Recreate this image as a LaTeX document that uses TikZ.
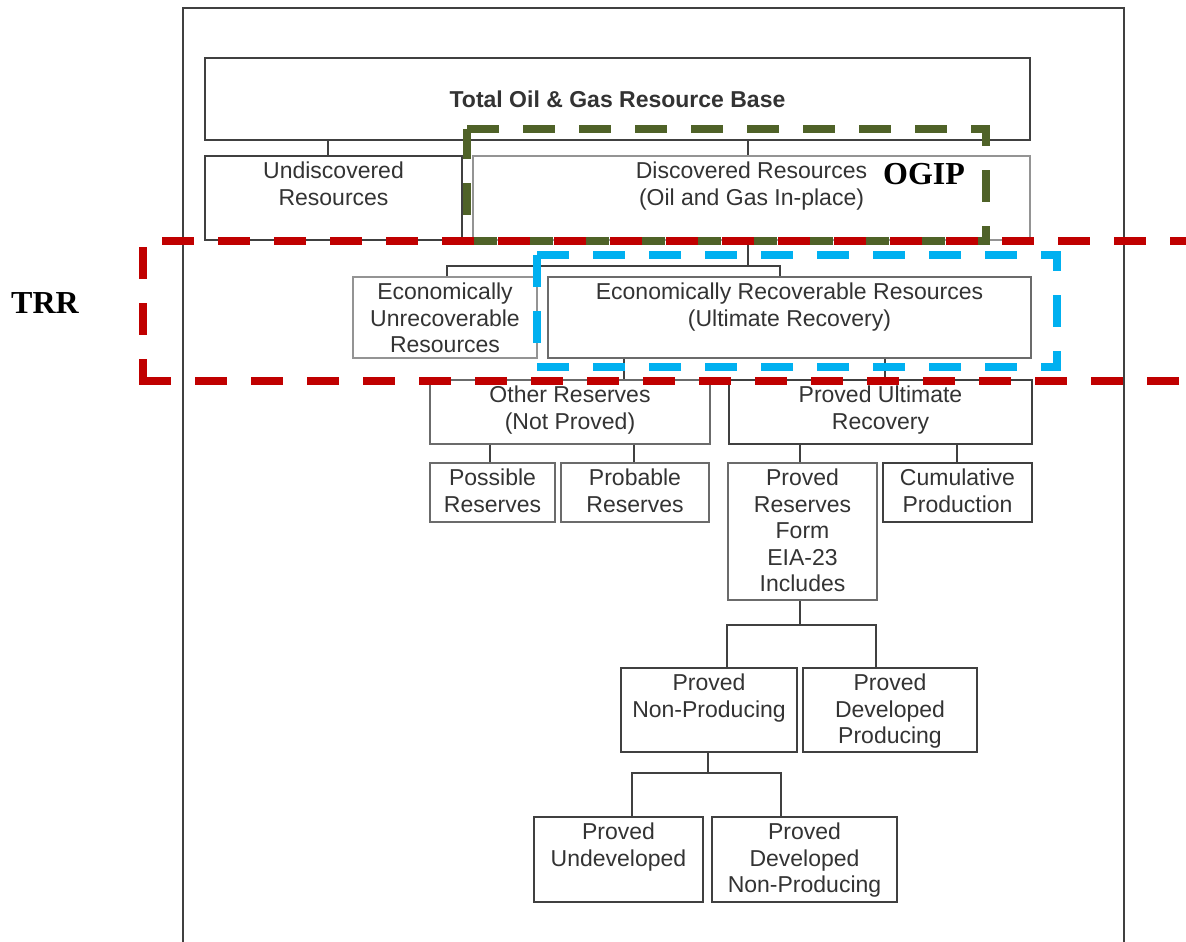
\documentclass[tikz,border=0pt]{standalone}
\usepackage{fontspec}
\setmainfont{Liberation Sans}
\newfontfamily\serifbold{Liberation Serif}
\usetikzlibrary{fit,calc}
\definecolor{ogipgreen}{HTML}{4F6228}
\definecolor{trrred}{HTML}{C00000}
\definecolor{urrblue}{HTML}{00B0F0}
\tikzset{
  box/.style={draw=black!58, line width=1.4pt, inner sep=0pt},
  dbox/.style={box, draw=black!75},
  lbox/.style={box, draw=black!42},
  txt/.style={anchor=north, inner sep=0pt, align=center, text=black!80,
    font=\fontsize{23}{26.5}\selectfont, yshift=-6.4pt},
  conn/.style={draw=black!75, line width=1.3pt},
  hl/.style={line width=7.5pt, dash pattern=on 32pt off 24pt, line join=miter},
  lab/.style={font=\serifbold\bfseries\fontsize{32}{36}\selectfont, inner sep=0pt}
}
\newcommand\mybox[7]{%
  \node[#1, fit={(#3,#4) (#5,#6)}] (#2) {};
  \node[txt] (#2-t) at (#2.north) {#7};}
\begin{document}
\begin{tikzpicture}[x=1pt,y=-1pt]
\useasboundingbox (0,0) rectangle (1186,942);
\clip (0,0) rectangle (1186,942);
\fill[white] (0,0) rectangle (1186,942);
% outer frame
\coordinate (fbl) at (183,942);
\coordinate (ftl) at (183,8);
\coordinate (ftr) at (1124,8);
\coordinate (fbr) at (1124,942);
\draw[black!75, line width=1.3pt] (fbl) -- (ftl) -- (ftr) -- (fbr);
% boxes
\node[dbox, fit={(205,58) (1030,140)}] (total) {};
\node[txt, anchor=center, yshift=6pt, font=\bfseries\fontsize{23}{26.5}\selectfont] (total-t) at (total.center) {Total Oil \& Gas Resource Base};
\mybox{dbox}{undisc}{205}{156}{462}{240}{Undiscovered\\Resources}
\mybox{lbox}{disc}{473}{156}{1030}{240}{Discovered Resources\\(Oil and Gas In-place)}
\mybox{lbox}{econU}{353}{277}{537}{358}{Economically\\Unrecoverable\\Resources}
\mybox{box}{econR}{548}{277}{1031}{358}{Economically Recoverable Resources\\(Ultimate Recovery)}
\mybox{box}{otherR}{430}{380}{710}{444}{Other Reserves\\(Not Proved)}
\mybox{dbox}{provedU}{729}{380}{1032}{444}{Proved Ultimate\\Recovery}
\mybox{box}{possible}{430}{463}{555}{522}{Possible\\Reserves}
\mybox{box}{probable}{561}{463}{709}{522}{Probable\\Reserves}
\mybox{box}{provedR}{728}{463}{877}{600}{Proved\\Reserves\\Form\\EIA-23\\Includes}
\mybox{dbox}{cumul}{883}{463}{1032}{522}{Cumulative\\Production}
\mybox{dbox}{pnp}{621}{668}{797}{752}{Proved\\Non-Producing}
\mybox{dbox}{pdp}{803}{668}{977}{752}{Proved\\Developed\\Producing}
\mybox{dbox}{pud}{534}{817}{703}{902}{Proved\\Undeveloped}
\mybox{dbox}{pdnp}{712}{817}{897}{902}{Proved\\Developed\\Non-Producing}
% connectors
\coordinate (j1) at (328,0);
\coordinate (j2) at (748,0);
\draw[conn] (j1 |- total.south) -- (j1 |- undisc.north);
\draw[conn] (j2 |- total.south) -- (j2 |- disc.north);
\coordinate (h1) at (748,266);
\coordinate (h1L) at (447,266);
\coordinate (h1R) at (780,266);
\draw[conn] (h1 |- disc.south) -- (h1);
\draw[conn] (h1L |- econU.north) -- (h1L) -- (h1R) -- (h1R |- econR.north);
\coordinate (a1) at (624,0);
\coordinate (a2) at (885,0);
\draw[conn] (a1 |- econR.south) -- (a1 |- otherR.north);
\draw[conn] (a2 |- econR.south) -- (a2 |- provedU.north);
\draw[conn] (otherR.north east) -- (provedU.north west);
\coordinate (b1) at (490,0);
\coordinate (b2) at (634,0);
\draw[conn] (b1 |- otherR.south) -- (b1 |- possible.north);
\draw[conn] (b2 |- otherR.south) -- (b2 |- probable.north);
\coordinate (c1) at (800,0);
\coordinate (c2) at (957,0);
\draw[conn] (c1 |- provedU.south) -- (c1 |- provedR.north);
\draw[conn] (c2 |- provedU.south) -- (c2 |- cumul.north);
\coordinate (h2) at (800,625);
\coordinate (h2L) at (727,625);
\coordinate (h2R) at (876,625);
\draw[conn] (h2 |- provedR.south) -- (h2);
\draw[conn] (h2L |- pnp.north) -- (h2L) -- (h2R) -- (h2R |- pdp.north);
\coordinate (h3) at (708,773);
\coordinate (h3L) at (632,773);
\coordinate (h3R) at (781,773);
\draw[conn] (h3 |- pnp.south) -- (h3);
\draw[conn] (h3L |- pud.north) -- (h3L) -- (h3R) -- (h3R |- pdnp.north);
% highlight frames
\coordinate (g1) at (467,129);
\coordinate (g2) at (986,129);
\coordinate (g3) at (986,241);
\coordinate (g4) at (467,241);
\draw[hl, ogipgreen] (g1) -- (g2) -- (g3) -- (g4) -- cycle;
\coordinate (r1) at (143,241);
\coordinate (r2) at (1200,241);
\coordinate (r3) at (143,384.75);
\coordinate (r4) at (139.25,381);
\coordinate (r5) at (1200,381);
\draw[hl, trrred, dash phase=37pt] (r1) -- (r2);
\draw[hl, trrred, dash phase=50pt] (r1) -- (r3);
\draw[hl, trrred] (r4) -- (r5);
\coordinate (u1) at (537,255);
\coordinate (u2) at (1057,255);
\coordinate (u3) at (1057,367);
\coordinate (u4) at (537,367);
\draw[hl, urrblue] (u1) -- (u2) -- (u3) -- (u4) -- cycle;
% labels
\node[lab] (ogip) at (924,174) {OGIP};
\node[lab] (trr) at (45,303.5) {TRR};
\end{tikzpicture}
\end{document}
